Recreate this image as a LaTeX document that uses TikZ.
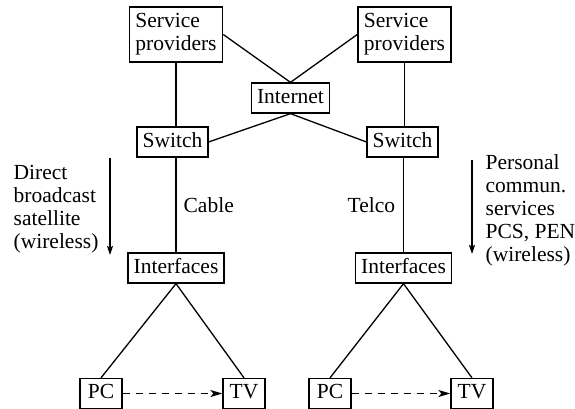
\documentclass[tikz,border=0pt]{standalone}
\usepackage{fontspec}
\setmainfont{Liberation Serif}
\usetikzlibrary{arrows.meta}
\begin{document}
\begin{tikzpicture}[x=1pt,y=-1pt,line width=1.3pt,
  txt/.style={font=\fontsize{21.5}{23}\selectfont},
  box/.style={draw,txt,inner xsep=5.5pt,inner ysep=5pt,text height=15pt,text depth=5pt},
  spbox/.style={draw,txt,align=left,inner xsep=6pt,inner ysep=4pt,minimum height=55pt},
  smallbox/.style={box,minimum width=42pt},
  lbl/.style={txt,align=left,inner sep=0pt},
  dasharrow/.style={dash pattern=on 7pt off 6pt,-{Stealth[length=12pt,width=7pt,inset=3pt]}},
  downarrow/.style={-{Stealth[length=9pt,width=6pt,inset=1.5pt]}}]
\useasboundingbox (0,0) rectangle (575,409);
\clip (0,0) rectangle (575,409);
% nodes
\node[spbox] (spL) at (176,34.5) {Service\\providers};
\node[spbox] (spR) at (404.5,34.5) {Service\\providers};
\node[box] (inet) at (290.5,98) {Internet};
\node[box] (swL) at (172.5,142) {Switch};
\node[box] (swR) at (402.5,142) {Switch};
\node[box] (ifL) at (176,268) {Interfaces};
\node[box] (ifR) at (403.5,268) {Interfaces};
\node[smallbox] (pcL) at (101,393.5) {PC};
\node[smallbox] (tvL) at (244,393.5) {TV};
\node[smallbox] (pcR) at (330,393.5) {PC};
\node[smallbox] (tvR) at (472,393.5) {TV};
% labels
\node[lbl,anchor=base west] (cable) at (183,212) {Cable};
\node[lbl,anchor=base west] (telco) at (347,212) {Telco};
\node[lbl,anchor=north west] (dbs) at (13,164.5) {Direct\\broadcast\\satellite\\(wireless)};
\node[lbl,anchor=north west] (pcs) at (485,153.5) {Personal\\commun.\\services\\PCS, PEN\\(wireless)};
% connectors
\draw (spL.south) -- (spL.south |- swL.north);
\draw (ifL.north |- swL.south) -- (ifL.north);
\draw (spR.south) -- (spR.south |- swR.north);
\draw (ifR.north |- swR.south) -- (ifR.north);
\draw (spL.east) -- (inet.north);
\draw (spR.west) -- (inet.north);
\draw (inet.south) -- (swL.east);
\draw (inet.south) -- (swR.west);
\draw (pcL.north) -- (ifL.south) -- (tvL.north);
\draw (pcR.north) -- (ifR.south) -- (tvR.north);
\draw[dasharrow] (pcL) -- (tvL);
\draw[dasharrow] (pcR) -- (tvR);
% side arrows
\coordinate (aL1) at (110,158);
\coordinate (aL2) at (110,255);
\coordinate (aR1) at (472,160);
\coordinate (aR2) at (472,254);
\draw[downarrow] (aL1) -- (aL2);
\draw[downarrow] (aR1) -- (aR2);
\end{tikzpicture}
\end{document}
